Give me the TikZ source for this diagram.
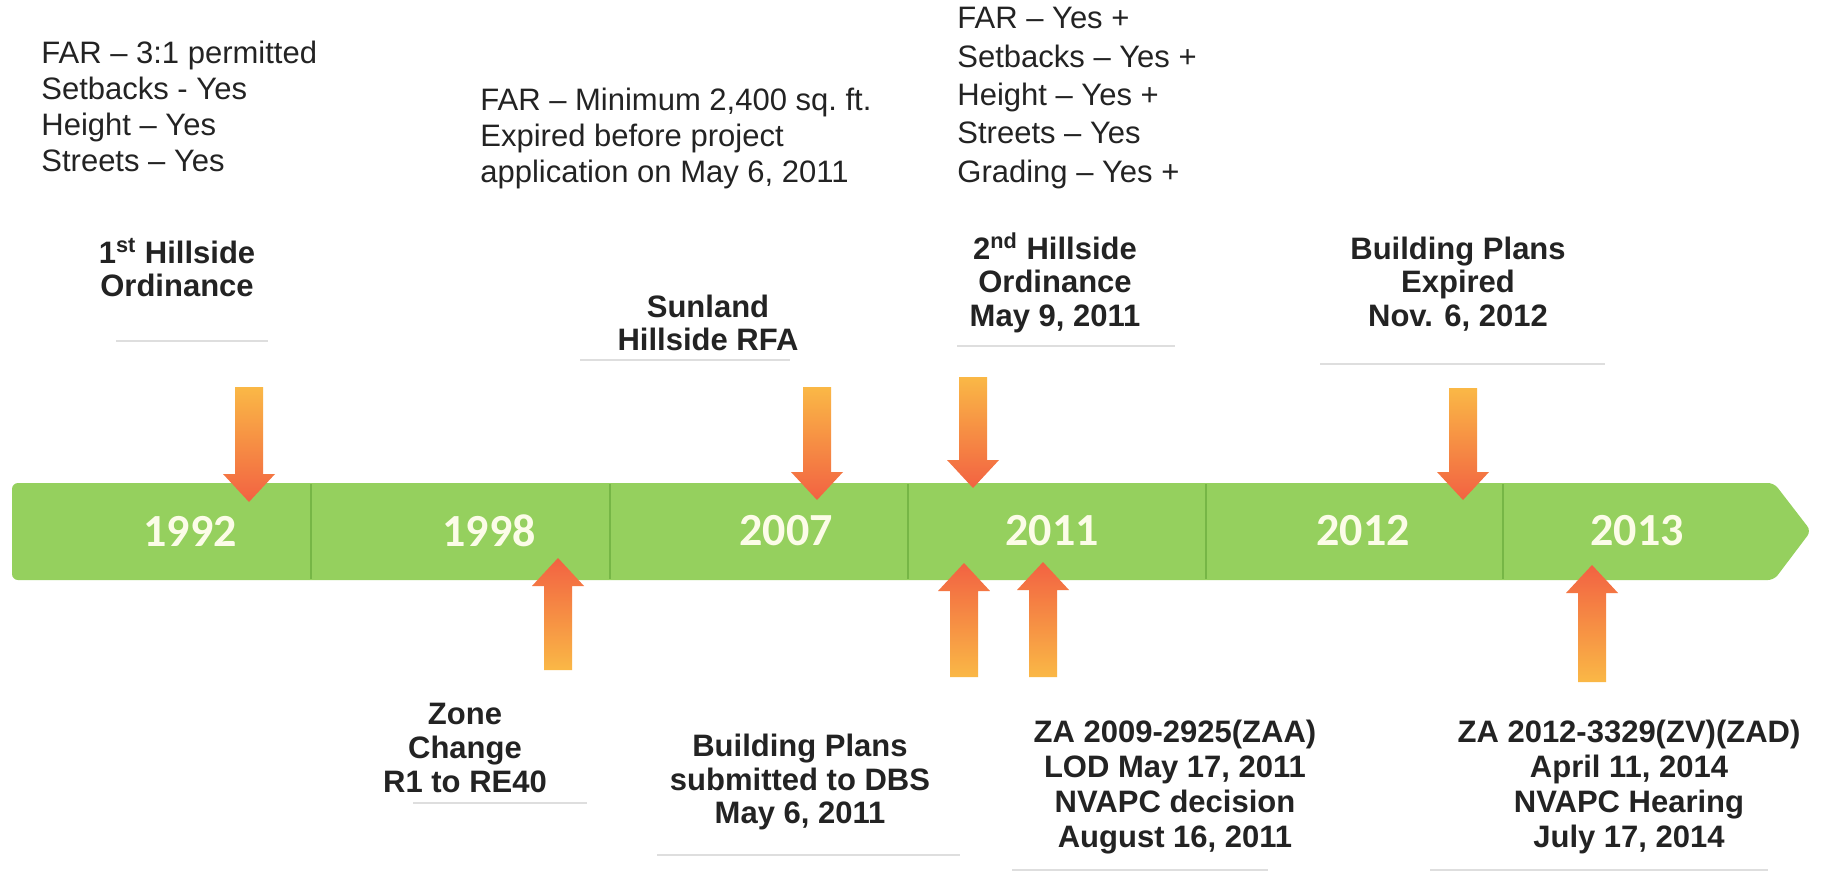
\documentclass[tikz,border=0pt]{standalone}
\usepackage{fontspec}
\setmainfont{Liberation Sans}
\newfontfamily\yearfont{Carlito}
\definecolor{bargreen}{RGB}{149,208,94}
\definecolor{divgreen}{RGB}{118,182,70}
\definecolor{arrowtail}{RGB}{250,184,70}
\definecolor{arrowhead}{RGB}{242,98,66}
\definecolor{yeartext}{RGB}{252,252,232}
\definecolor{faint}{RGB}{222,222,222}
\definecolor{ink}{RGB}{35,35,35}
\tikzset{
 note/.style={font=\fontsize{15.5}{18}\selectfont, align=left, inner sep=0pt, text=ink},
 event/.style={font=\fontsize{15.5}{16.8}\selectfont\bfseries, align=center, inner sep=0pt, text=ink},
 year/.style={font=\yearfont\bfseries\fontsize{23}{23}\selectfont, text=yeartext, inner sep=0pt},
 faintline/.style={draw=faint, line width=1pt},
 divider/.style={draw=divgreen, line width=1pt},
 arrowfill/.style={top color=arrowtail, bottom color=arrowhead},
 arrowfillup/.style={top color=arrowhead, bottom color=arrowtail},
}
\newcommand\dnarrow[4]{%
 \shade[arrowfill] ({#1-14},#2) -- ({#1+14},#2) -- ({#1+14},{#3-28}) -- ({#1+26},{#3-28})
   -- (#1,#3) -- ({#1-26},{#3-28}) -- ({#1-14},{#3-28}) -- cycle;
 \coordinate (#4) at (#1,#3);}
\newcommand\uparrowat[4]{%
 \shade[arrowfillup] ({#1-14},#2) -- ({#1+14},#2) -- ({#1+14},{#3+28}) -- ({#1+26},{#3+28})
   -- (#1,#3) -- ({#1-26},{#3+28}) -- ({#1-14},{#3+28}) -- cycle;
 \coordinate (#4) at (#1,#3);}
\begin{document}
\begin{tikzpicture}[x=0.5pt,y=-0.5pt]
\useasboundingbox[fill=white] (0,0) rectangle (1824,877);
% timeline bar
\fill[bargreen, rounded corners=3] (12,483) -- (1774,483) -- (1811,531) -- (1774,580) -- (12,580) -- cycle;
\foreach \dx in {311,610,908,1206,1503} \draw[divider] (\dx,484) -- (\dx,579);
\node[year] (y1992) at (190,531) {1992};
\node[year] (y1998) at (489,531) {1998};
\node[year] (y2007) at (786,531) {2007};
\node[year] (y2011) at (1052,531) {2011};
\node[year] (y2012) at (1363,531) {2012};
\node[year] (y2013) at (1637,531) {2013};
% arrows
\dnarrow{249}{387}{502}{a1}
\dnarrow{817}{387}{500}{a2}
\dnarrow{973}{377}{488}{a3}
\dnarrow{1463}{388}{500}{a4}
\uparrowat{558}{670}{558}{b1}
\uparrowat{964}{677}{563}{b2}
\uparrowat{1043}{677}{562}{b3}
\uparrowat{1592}{682}{565}{b4}
% top notes
\node[note, anchor=west] (n1) at (41,106) {FAR -- 3:1 permitted\\Setbacks - Yes\\Height -- Yes\\Streets -- Yes};
\node[note, anchor=west] (n2) at (480,138) {FAR -- Minimum 2,400 sq.\ ft.\\Expired before project\\application on May 6, 2011};
\node[note, anchor=west, font=\fontsize{15.5}{19.2}\selectfont] (n3) at (957,98) {FAR -- Yes +\\Setbacks -- Yes +\\Height -- Yes +\\Streets -- Yes\\Grading -- Yes +};
% top events
\node[event] (e1) at (177,268) {1\textsuperscript{st} Hillside\\Ordinance};
\node[event] (e2) at (708,323) {Sunland\\Hillside RFA};
\node[event] (e3) at (1055,283) {2\textsuperscript{nd} Hillside\\Ordinance\\May 9, 2011};
\node[event] (e4) at (1458,284) {Building Plans\\Expired\\Nov. 6, 2012};
% bottom events
\node[event] (e5) at (465,748) {Zone\\Change\\R1 to RE40};
\node[event] (e6) at (800,782) {Building Plans\\submitted to DBS\\May 6, 2011};
\node[event, font=\fontsize{15.5}{17.5}\selectfont\bfseries] (e7) at (1175,787) {ZA 2009-2925(ZAA)\\LOD May 17, 2011\\NVAPC decision\\August 16, 2011};
\node[event, font=\fontsize{15.5}{17.5}\selectfont\bfseries] (e8) at (1629,787) {ZA 2012-3329(ZV)(ZAD)\\April 11, 2014\\NVAPC Hearing\\July 17, 2014};
% faint text-box edges
\draw[faintline] (116,341) -- (268,341);
\draw[faintline] (580,360) -- (790,360);
\draw[faintline] (957,346) -- (1175,346);
\draw[faintline] (1320,364) -- (1605,364);
\draw[faintline] (413,803) -- (587,803);
\draw[faintline] (657,855) -- (960,855);
\draw[faintline] (1012,870) -- (1268,870);
\draw[faintline] (1430,870) -- (1768,870);
\end{tikzpicture}
\end{document}
